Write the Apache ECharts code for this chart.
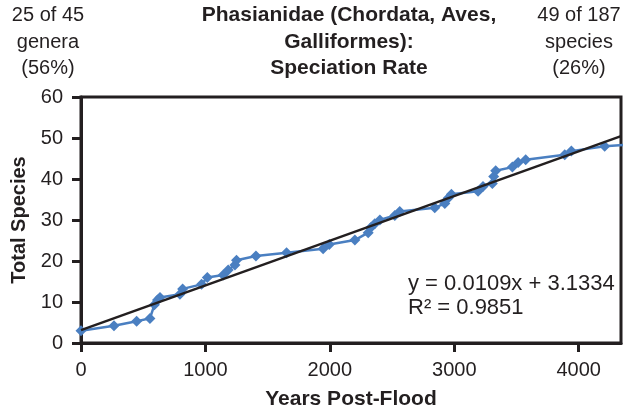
<!DOCTYPE html>
<html>
<head>
<meta charset="utf-8">
<script src="https://cdn.jsdelivr.net/npm/echarts@6/dist/echarts.min.js"></script>
<style>
  html, body { margin: 0; padding: 0; background: #fff; }
  #chart { width: 623px; height: 415px; }
</style>
</head>
<body>
<div id="chart"></div>
<script>
// years post-flood and cumulative species count
const years = [0, 265, 447, 554, 590, 615, 635, 795, 817, 969, 1015, 1143, 1183, 1237, 1250,
  1406, 1652, 1946, 1995, 2201, 2308, 2327, 2361, 2402, 2522, 2562, 2843, 2924, 2950, 2977,
  3191, 3231, 3306, 3317, 3333, 3467, 3513, 3574, 3888, 3941, 4209, 4450];
const species = [3, 4.2, 5.3, 6, 9.3, 10.5, 11.1, 11.9, 13.2, 14.3, 16, 16.6, 17.8, 19, 20.2,
  21.2, 22, 23, 24, 25.1, 26.9, 28.1, 29.1, 30, 31.1, 32.1, 33, 34, 35.3, 36.3,
  37, 38.2, 38.9, 40.6, 42, 42.9, 44, 44.7, 45.9, 46.8, 48, 48.5];
const yTicks = [0, 10, 20, 30, 40, 50, 60];
const xTicks = [0, 1000, 2000, 3000, 4000];
// linear trendline shown on the chart
const slope = 0.0109;
const intercept = 3.1334;
const xMax = 4340;

const blue = '#4a7fc1';
const ink = '#231f20';
const font = 'Liberation Sans, Arial, sans-serif';

const chart = echarts.init(document.getElementById('chart'));
chart.setOption({
  animation: false,
  grid: { left: 81, right: 2, top: 97, bottom: 71, show: true, borderColor: ink, borderWidth: 3 },
  xAxis: {
    type: 'value', min: 0, max: xMax, interval: 1000,
    name: 'Years Post-Flood', nameLocation: 'middle', nameGap: 46,
    nameTextStyle: { fontFamily: font, fontSize: 21, fontWeight: 'bold', color: ink },
    axisLine: { lineStyle: { color: ink, width: 3 } },
    axisTick: { show: true, length: 9, lineStyle: { color: ink, width: 3 } },
    axisLabel: { fontFamily: font, fontSize: 20, color: ink, margin: 17,
      showMaxLabel: false,
      formatter: v => xTicks.includes(v) ? String(v) : '' },
    splitLine: { show: false }
  },
  yAxis: {
    type: 'value', min: 0, max: 60, interval: 10,
    name: 'Total Species', nameLocation: 'middle', nameGap: 52,
    nameTextStyle: { fontFamily: font, fontSize: 20, fontWeight: 'bold', color: ink },
    axisLine: { show: true, lineStyle: { color: ink, width: 3 } },
    axisTick: { show: true, length: 9, lineStyle: { color: ink, width: 3 } },
    axisLabel: { fontFamily: font, fontSize: 20, color: ink, margin: 18,
      formatter: v => yTicks.includes(v) ? String(v) : '' },
    splitLine: { show: false }
  },
  series: [
    {
      type: 'line',
      data: years.map((x, i) => [x, species[i]]),
      symbol: 'diamond', symbolSize: 11,
      lineStyle: { color: blue, width: 2.5 },
      itemStyle: { color: blue },
      clip: true, z: 2
    },
    {
      type: 'line',
      data: [[0, intercept], [xMax, intercept + slope * xMax]],
      symbol: 'none',
      lineStyle: { color: ink, width: 2.5 },
      z: 3
    }
  ],
  graphic: [
    { type: 'text', style: { x: 48, y: 42, text: '25 of 45\ngenera\n(56%)', align: 'center', verticalAlign: 'middle', lineHeight: 26.5, font: '20px ' + font, fill: ink } },
    { type: 'text', style: { x: 349, y: 42, text: 'Phasianidae (Chordata, Aves,\nGalliformes):\nSpeciation Rate', align: 'center', verticalAlign: 'middle', lineHeight: 26.5, font: 'bold 21px ' + font, fill: ink } },
    { type: 'text', style: { x: 579, y: 42, text: '49 of 187\nspecies\n(26%)', align: 'center', verticalAlign: 'middle', lineHeight: 26.5, font: '20px ' + font, fill: ink } },
    { type: 'text', style: { x: 408, y: 284, text: 'y = 0.0109x + 3.1334', verticalAlign: 'middle', font: '22px ' + font, fill: ink } },
    { type: 'text', style: { x: 408, y: 308, text: 'R² = 0.9851', verticalAlign: 'middle', font: '22px ' + font, fill: ink } }
  ]
});
</script>
</body>
</html>
